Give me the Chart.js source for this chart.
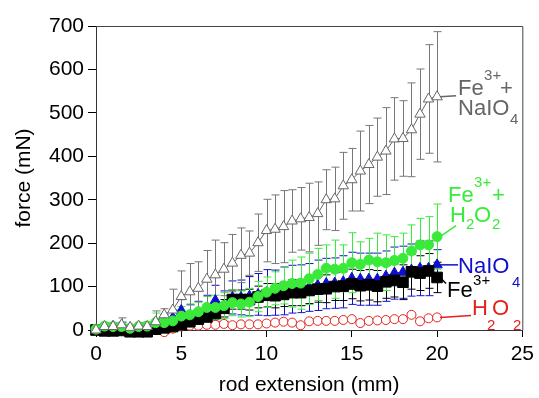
<!DOCTYPE html>
<html>
<head>
<meta charset="utf-8">
<title>force vs rod extension</title>
<script src="https://cdn.jsdelivr.net/npm/chart.js@4.4.1/dist/chart.umd.min.js"></script>
<style>
  html, body { margin: 0; padding: 0; background: #fff; }
  #wrap { width: 539px; height: 398px; }
</style>
</head>
<body>
<div id="wrap"><canvas id="force-chart" width="539" height="398"></canvas></div>
<script>
// ---- Data ----
const extension = [0, 0.5, 1, 1.5, 2, 2.5, 3, 3.5, 4, 4.5, 5, 5.5, 6, 6.5, 7, 7.5, 8, 8.5, 9, 9.5,
  10, 10.5, 11, 11.5, 12, 12.5, 13, 13.5, 14, 14.5, 15, 15.5, 16, 16.5, 17, 17.5, 18, 18.5, 19, 19.5, 20];

const feNaio4 = [0, 8, 8, 12, 6, 9, 8, 19, 35, 46, 77, 88, 96, 117, 127, 140, 154, 172, 177, 201,
  229, 232, 238, 251, 256, 259, 268, 300, 302, 332, 346, 366, 381, 398, 412, 440, 441, 461, 497, 532, 537];
const feNaio4Err = [2, 6, 8, 16, 6, 8, 8, 25, 14, 48, 59, 65, 61, 66, 80, 61, 66, 63, 51, 66,
  72, 79, 83, 72, 72, 79, 73, 69, 73, 77, 72, 92, 90, 90, 100, 95, 87, 108, 104, 125, 150];

const feH2o2 = [2, 9, 8, 8, 4, 8, 9, 17, 17, 21, 32, 35, 42, 52, 52, 56, 63, 60, 64, 77,
  87, 96, 102, 107, 108, 118, 128, 142, 140, 142, 155, 151, 161, 157, 155, 160, 165, 182, 196, 196, 215];
const feH2o2Err = [2, 8, 8, 8, 6, 8, 10, 22, 18, 20, 22, 25, 22, 25, 28, 30, 30, 30, 32, 35,
  35, 38, 42, 54, 60, 59, 60, 54, 67, 54, 69, 52, 50, 66, 64, 55, 58, 60, 61, 65, 75];

const naio4 = [0, 5, 8, 10, 5, 6, 5, 15, 20, 28, 45, 33, 38, 50, 68, 55, 75, 75, 78, 82,
  86, 86, 90, 94, 95, 98, 103, 107, 108, 111, 119, 117, 117, 117, 124, 131, 133, 138, 142, 142, 150];
const naio4Err = [2, 5, 8, 8, 5, 5, 5, 10, 15, 18, 25, 25, 28, 30, 35, 35, 38, 40, 45, 48,
  53, 52, 55, 55, 55, 55, 58, 58, 58, 60, 60, 60, 60, 60, 58, 60, 60, 60, 63, 63, 35];

const fe = [0, -2, -2, -1, -4, -4, -4, 2, 5, 8, 12, 19, 25, 30, 38, 50, 70, 70, 70, 76,
  80, 79, 82, 86, 86, 91, 94, 95, 100, 101, 106, 102, 104, 101, 111, 114, 110, 134, 131, 136, 121];
const feErr = [2, 3, 3, 3, 3, 3, 3, 5, 6, 8, 10, 12, 14, 15, 18, 20, 22, 22, 24, 25,
  27, 28, 28, 30, 30, 30, 30, 32, 32, 33, 34, 35, 35, 36, 38, 38, 40, 40, 40, 40, 35];

const h2o2 = [0, 2, 3, 2, 1, 2, 1, 0, -5, 3, 8, 10, 10, 12, 12, 14, 11, 13, 13, 13,
  15, 17, 19, 17, 11, 20, 21, 21, 21, 23, 25, 16, 21, 22, 23, 25, 25, 35, 20, 27, 29];

const xTicks = [0, 5, 10, 15, 20, 25];
const yTicks = [0, 100, 200, 300, 400, 500, 600, 700];

// ---- Colours ----
const GRAY  = '#666666';
const GREEN = '#3aea3a';
const BLUE  = '#1010cc';
const BLACK = '#000000';
const RED   = '#e3221e';
const FONT  = '"Liberation Sans", Arial, Helvetica, sans-serif';

const pts = arr => extension.map((x, i) => ({ x, y: arr[i] }));

// ---- Series end labels (pixel offsets from the last point) ----
// runs: [text, dx, dy, size]
const endLabels = [
  { ds: 0, color: GRAY,  lead: [19, -1], runs: [['Fe', 21, -2, 22], ['3+', 47, -17, 15], ['+', 63, -2, 22], ['NaIO', 21, 18, 22], ['4', 73, 27, 15]] },
  { ds: 1, color: GREEN, lead: [19, -11], runs: [['Fe', 11, -35, 22], ['3+', 37, -50, 15], ['+', 55, -35, 22], ['H', 13, -15, 22], ['2', 29, -8, 15], ['O', 37, -15, 22], ['2', 55, -8, 15]] },
  { ds: 2, color: BLUE,  lead: [21, 0], runs: [['NaIO', 21, 8, 22], ['4', 75, 22, 15]] },
  { ds: 3, color: BLACK, lead: [9, 6], runs: [['Fe', 10, 20, 22], ['3+', 36, 8, 15]] },
  { ds: 4, color: RED,   lead: [34, -2], runs: [['H', 35, -2, 22], ['O', 55, -2, 22], ['2', 50, 13, 15], ['2', 76, 13, 15]] }
];

// ---- Plugins ----
const errorBars = {
  id: 'errorBars',
  beforeDatasetsDraw(chart) {
    const { ctx } = chart;
    const xs = chart.scales.x, ys = chart.scales.y;
    // bottom-most dataset first
    [...chart.data.datasets].sort((a, b) => b.order - a.order).forEach(ds => {
      if (!ds.errors) return;
      ctx.save();
      ctx.strokeStyle = ds.barColor || ds.borderColor;
      ctx.lineWidth = 1;
      ds.data.forEach((p, i) => {
        const e = ds.errors[i];
        const px = Math.round(xs.getPixelForValue(p.x)) + 0.5;
        const top = ys.getPixelForValue(p.y + e);
        const bot = ys.getPixelForValue(p.y - e);
        ctx.beginPath();
        ctx.moveTo(px, top); ctx.lineTo(px, bot);
        ctx.moveTo(px - 4, top); ctx.lineTo(px + 4, top);
        ctx.moveTo(px - 4, bot); ctx.lineTo(px + 4, bot);
        ctx.stroke();
      });
      ctx.restore();
    });
  }
};

const frame = {
  id: 'frame',
  beforeDatasetsDraw(chart) {
    const { ctx, chartArea: a } = chart;
    ctx.save();
    ctx.strokeStyle = '#444';
    ctx.lineWidth = 1;
    ctx.beginPath();
    ctx.moveTo(a.left, a.top + 0.5); ctx.lineTo(a.right + 0.5, a.top + 0.5);
    ctx.lineTo(a.right + 0.5, a.bottom);
    ctx.stroke();
    ctx.restore();
  }
};

const seriesLabels = {
  id: 'seriesLabels',
  afterDatasetsDraw(chart) {
    const { ctx } = chart;
    const xs = chart.scales.x, ys = chart.scales.y;
    endLabels.forEach(l => {
      const data = chart.data.datasets[l.ds].data;
      const last = data[data.length - 1];
      const ex = xs.getPixelForValue(last.x);
      const ey = ys.getPixelForValue(last.y);
      ctx.save();
      ctx.strokeStyle = l.color;
      ctx.lineWidth = 1.5;
      ctx.beginPath();
      ctx.moveTo(ex + 3, ey);
      ctx.lineTo(ex + l.lead[0], ey + l.lead[1]);
      ctx.stroke();
      ctx.fillStyle = l.color;
      ctx.textBaseline = 'alphabetic';
      ctx.textAlign = 'left';
      l.runs.forEach(([t, dx, dy, sz]) => {
        ctx.font = `${sz}px ${FONT}`;
        ctx.fillText(t, ex + dx, ey + dy);
      });
      ctx.restore();
    });
  }
};

// ---- Chart ----
const canvas = document.getElementById('force-chart');
const chart = new Chart(canvas, {
  type: 'scatter',
  data: {
    datasets: [
      { label: 'Fe3+ + NaIO4', data: pts(feNaio4), errors: feNaio4Err, order: 0, showLine: true,
        borderColor: GRAY, barColor: '#777', borderWidth: 1, pointStyle: 'triangle', pointRadius: 6,
        pointBackgroundColor: '#fff', pointBorderColor: GRAY, pointBorderWidth: 1 },
      { label: 'Fe3+ + H2O2', data: pts(feH2o2), errors: feH2o2Err, order: 1, showLine: true,
        borderColor: GREEN, borderWidth: 1, pointStyle: 'circle', pointRadius: 5,
        pointBackgroundColor: GREEN, pointBorderColor: GREEN },
      { label: 'NaIO4', data: pts(naio4), errors: naio4Err, order: 3, showLine: true,
        borderColor: BLUE, borderWidth: 1, pointStyle: 'triangle', pointRadius: 6,
        pointBackgroundColor: BLUE, pointBorderColor: BLUE },
      { label: 'Fe3+', data: pts(fe), errors: feErr, order: 2, showLine: true,
        borderColor: BLACK, borderWidth: 1, pointStyle: 'rect', pointRadius: 7.5,
        pointBackgroundColor: BLACK, pointBorderColor: BLACK },
      { label: 'H2O2', data: pts(h2o2), order: 4, showLine: true,
        borderColor: RED, borderWidth: 1, pointStyle: 'circle', pointRadius: 4.5,
        pointBackgroundColor: '#fff', pointBorderColor: RED, pointBorderWidth: 1 }
    ]
  },
  options: {
    responsive: false,
    animation: false,
    devicePixelRatio: 1,
    clip: false,
    layout: { padding: { left: 0, top: 26, right: 11, bottom: 0 } },
    plugins: { legend: { display: false }, tooltip: { enabled: false } },
    scales: {
      x: {
        type: 'linear', min: 0, max: 25,
        afterBuildTicks: s => { s.ticks = xTicks.map(v => ({ value: v })); },
        afterFit: s => { s.height = 68; },
        grid: { drawOnChartArea: false, drawTicks: true, tickLength: 7, color: '#000' },
        border: { display: true, color: '#333' },
        ticks: { color: '#000', padding: 5, font: { family: FONT, size: 21 } },
        title: { display: true, text: 'rod extension (mm)', color: '#000', padding: { top: 0, bottom: 0 },
                 font: { family: FONT, size: 21 } }
      },
      y: {
        type: 'linear', min: 0, max: 700,
        afterBuildTicks: s => { s.ticks = yTicks.map(v => ({ value: v })); },
        afterFit: s => { s.width = 96; },
        grid: { drawOnChartArea: false, drawTicks: true, tickLength: 8, color: '#000' },
        border: { display: true, color: '#333' },
        ticks: { color: '#000', padding: 4, font: { family: FONT, size: 21 } },
        title: { display: true, text: 'force (mN)', color: '#000', padding: { top: 12, bottom: 0 },
                 font: { family: FONT, size: 21 } }
      }
    }
  },
  plugins: [frame, errorBars, seriesLabels]
});
</script>
</body>
</html>
